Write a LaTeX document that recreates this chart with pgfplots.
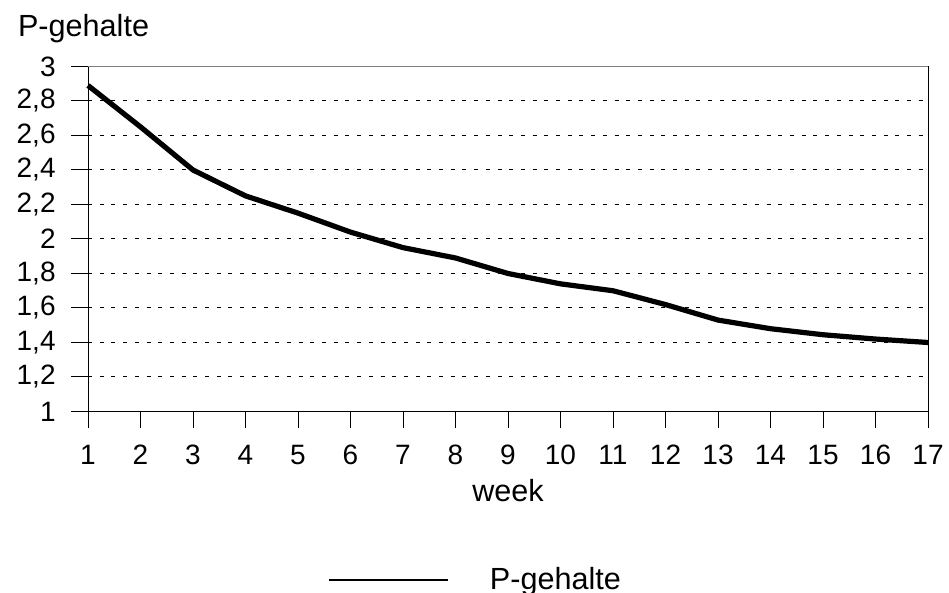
\documentclass[border=0pt]{standalone}
\usepackage{fontspec}
\setmainfont{Liberation Sans}
\usepackage{pgfplots}
\pgfplotsset{compat=1.18}
\begin{document}
\begin{tikzpicture}
\begin{axis}[
  name=ax,
  scale only axis,
  width=420pt, height=172.5pt,
  xmin=1, xmax=17, ymin=1, ymax=3,
  xtick={1,...,17},
  ytick={1,1.2,1.4,1.6,1.8,2,2.2,2.4,2.6,2.8,3},
  axis x line*=bottom, axis y line*=left,
  axis line style={line width=0.5pt, -},
  tick align=outside,
  major tick length=8.5pt,
  tick style={line width=0.5pt, black},
  ymajorgrids,
  major grid style={black, line width=0.5pt, dash pattern=on 2pt off 3.85pt},
  /pgf/number format/assume math mode=true,
  /pgf/number format/use comma,
  tick label style={font=\fontsize{14}{16}\selectfont},
  yticklabel style={anchor=east, inner sep=0pt, xshift=-7.5pt},
  xticklabel style={anchor=base, inner sep=0pt, yshift=-18.25pt},
  xlabel={week},
  every axis x label/.style={at={(axis description cs:0.5,0)}, anchor=base, yshift=-45.25pt, font=\fontsize{15.3}{17}\selectfont},
  ylabel={P-gehalte},
  every axis y label/.style={at={(axis description cs:0,1)}, anchor=base west, xshift=-38.5pt, yshift=14.75pt, font=\fontsize{15.3}{17}\selectfont},
  clip=false,
  legend style={at={(axis description cs:0.2845,-0.488)}, anchor=west, draw=none, fill=none,
    inner sep=0pt, column sep=20.5pt, font=\fontsize{15.3}{17}\selectfont,
    nodes={inner sep=0pt}},
  legend image code/.code={\draw[line width=1.3pt] (0pt,0pt) -- (59.5pt,0pt);},
]
\addplot[black, line width=2.6pt, line join=round] coordinates {
(1,2.89) (2,2.65) (3,2.40) (4,2.25) (5,2.15) (6,2.04) (7,1.95) (8,1.89) (9,1.80)
(10,1.74) (11,1.70) (12,1.62) (13,1.53) (14,1.48) (15,1.445) (16,1.42) (17,1.40)};
\addlegendentry{P-gehalte}
\draw[gray, line width=0.5pt] (rel axis cs:0,1) -- (rel axis cs:1,1);
\draw[black, line width=0.5pt] (rel axis cs:1,1) -- (rel axis cs:1,0);
\end{axis}
\useasboundingbox ([xshift=-44pt,yshift=-90.75pt]ax.south west) rectangle ([xshift=430.5pt,yshift=205.75pt]ax.south west);
\end{tikzpicture}
\end{document}
